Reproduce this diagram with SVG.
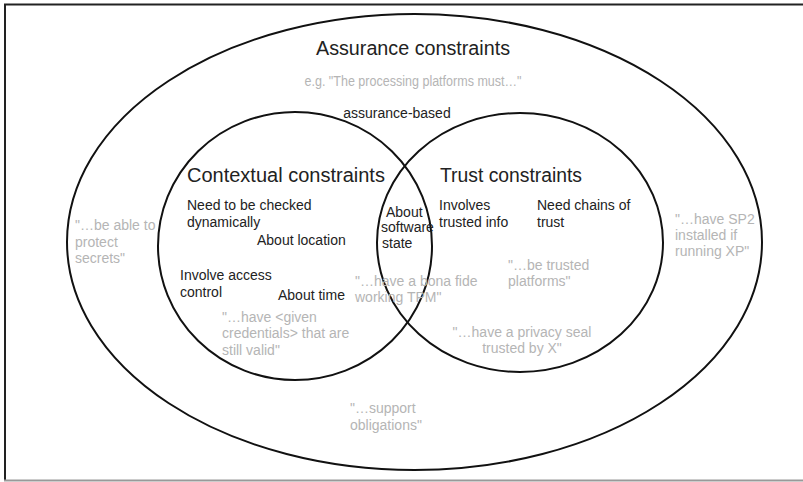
<svg xmlns="http://www.w3.org/2000/svg" width="803" height="482" viewBox="0 0 803 482">
<style>
.set{fill:none;stroke:#111;stroke-width:2}
.t{font-family:"Liberation Sans",Arial,sans-serif;font-size:14px;fill:#222}
.g{font-family:"Liberation Sans",Arial,sans-serif;font-size:14px;fill:#b5b5b5}
.h{font-family:"Liberation Sans",Arial,sans-serif;font-size:20px;fill:#222}
</style>
<rect width="803" height="482" fill="#fff"/>
<g id="frame">
<path d="M5,481 V4.5 H803" fill="none" stroke="#222" stroke-width="2"/>
<line x1="4" y1="480.5" x2="803" y2="480.5" stroke="#999" stroke-width="2"/>
</g>
<g id="assurance">
<ellipse class="set" cx="414.5" cy="242" rx="347.5" ry="228"/>
<text class="h" x="413" y="55" text-anchor="middle" textLength="194" lengthAdjust="spacingAndGlyphs">Assurance constraints</text>
<text class="g" x="413" y="86" text-anchor="middle" textLength="217" lengthAdjust="spacingAndGlyphs">e.g. "The processing platforms must…"</text>
<text class="t" x="397" y="118" text-anchor="middle" font-size="13.5">assurance-based</text>
<text class="g" x="75" y="230">"…be able to</text>
<text class="g" x="75" y="247">protect</text>
<text class="g" x="75" y="263">secrets"</text>
<text class="g" x="675" y="224">"…have SP2</text>
<text class="g" x="675" y="240">installed if</text>
<text class="g" x="675" y="256">running XP"</text>
<text class="g" x="350" y="413">"…support</text>
<text class="g" x="350" y="430">obligations"</text>
</g>
<g id="contextual">
<ellipse class="set" cx="295" cy="246" rx="137" ry="134"/>
<text class="h" x="187" y="182">Contextual constraints</text>
<text class="t" x="187" y="210">Need to be checked</text>
<text class="t" x="187" y="227">dynamically</text>
<text class="t" x="257" y="245">About location</text>
<text class="t" x="180" y="280">Involve access</text>
<text class="t" x="180" y="297">control</text>
<text class="t" x="278" y="300">About time</text>
<text class="g" x="222" y="322">"…have &lt;given</text>
<text class="g" x="222" y="338">credentials&gt; that are</text>
<text class="g" x="222" y="355">still valid"</text>
</g>
<g id="trust">
<ellipse class="set" cx="520" cy="242.5" rx="143" ry="129.5"/>
<text class="h" x="440" y="182" textLength="142" lengthAdjust="spacingAndGlyphs">Trust constraints</text>
<text class="t" x="439" y="210">Involves</text>
<text class="t" x="439" y="227">trusted info</text>
<text class="t" x="537" y="210">Need chains of</text>
<text class="t" x="537" y="227">trust</text>
<text class="g" x="508" y="270">"…be trusted</text>
<text class="g" x="508" y="286">platforms"</text>
<text class="g" x="522" y="337" text-anchor="middle">"…have a privacy seal</text>
<text class="g" x="522" y="353" text-anchor="middle">trusted by X"</text>
</g>
<g id="overlap">
<text class="t" x="386" y="217">About</text>
<text class="t" x="381" y="232">software</text>
<text class="t" x="382" y="248">state</text>
<text class="g" x="355" y="286">"…have a bona fide</text>
<text class="g" x="355" y="302">working TPM"</text>
</g>
</svg>
